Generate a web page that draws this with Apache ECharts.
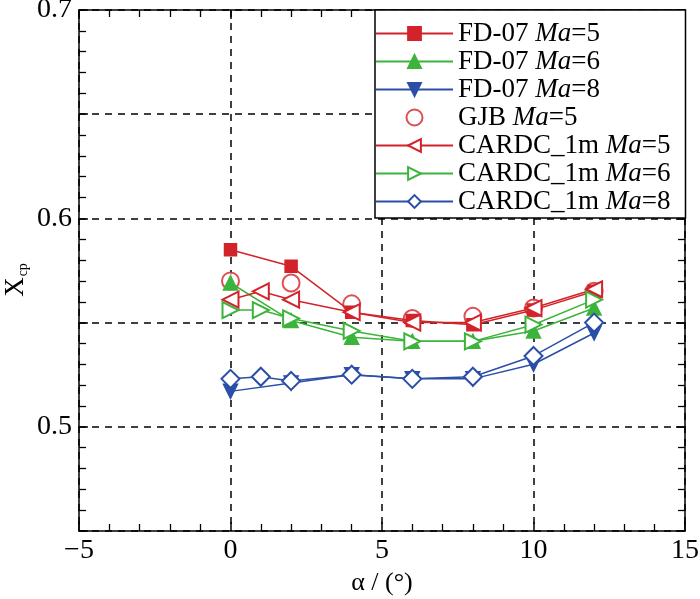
<!DOCTYPE html>
<html>
<head>
<meta charset="utf-8">
<script src="https://cdn.jsdelivr.net/npm/echarts@6/dist/echarts.min.js"></script>
<style>
  html, body { margin: 0; padding: 0; background: #fff; }
  #chart { width: 700px; height: 599px; }
</style>
</head>
<body>
<div id="chart"></div>
<script>
// angle of attack, deg
const alphaFD = [0, 2, 4, 6, 8, 10, 12];
const alphaGJB = [0, 2, 4, 6, 8, 10, 12];
const alphaCARDC = [0, 1, 2, 4, 6, 8, 10, 12];

// Xcp values
const fd07Ma5 = [0.585, 0.577, 0.555, 0.551, 0.549, 0.556, 0.565];
const fd07Ma6 = [0.569, 0.551, 0.543, 0.541, 0.541, 0.546, 0.557];
const fd07Ma8 = [0.517, 0.521, 0.525, 0.523, 0.523, 0.530, 0.545];
const gjbMa5 = [0.570, 0.569, 0.559, 0.552, 0.553, 0.557, 0.565];
const cardcMa5 = [0.561, 0.565, 0.561, 0.555, 0.550, 0.550, 0.557, 0.566];
const cardcMa6 = [0.556, 0.556, 0.552, 0.546, 0.541, 0.541, 0.549, 0.561];
const cardcMa8 = [0.523, 0.524, 0.522, 0.525, 0.523, 0.524, 0.534, 0.550];

const xTicks = [-5, 0, 5, 10, 15];
const yLabels = [0.5, 0.6, 0.7];

const RED = "#d3232a";
const GREEN = "#3cb43c";
const BLUE = "#2b4fa6";
const FONT = "Liberation Serif";

const pairs = (xs, ys) => xs.map((x, i) => [x, ys[i]]);

const lineSeries = (name, xs, ys, color, symbol, size, rotate) => ({
  name: name,
  type: "line",
  data: pairs(xs, ys),
  symbol: symbol,
  symbolSize: size,
  symbolRotate: rotate || 0,
  showAllSymbol: true,
  lineStyle: { color: color, width: 1.5 },
  itemStyle: { color: color, borderColor: color, borderWidth: 1.5 },
  emphasis: { disabled: true },
  animation: false,
});

const chart = echarts.init(document.getElementById("chart"), null, { renderer: "canvas" });

const tickStyle = { show: true, inside: true, length: 9, lineStyle: { color: "#000", width: 1.5 } };
const minorStyle = { show: true, splitNumber: 5, length: 7, lineStyle: { color: "#000", width: 1.3 } };
const axisLine = { show: true, onZero: false, lineStyle: { color: "#000", width: 1.5 } };
const dashed = { show: true, lineStyle: { color: "#000", width: 1.5, type: [7, 6] } };

chart.setOption({
  backgroundColor: "#fff",
  animation: false,
  grid: { left: 79, right: 15, top: 10, bottom: 68, containLabel: false, outerBoundsMode: "none" },
  legend: {
    orient: "vertical",
    left: 375,
    top: 10,
    padding: [10, 15, 3, 0],
    itemWidth: 77,
    itemHeight: 16,
    itemGap: 1,
    backgroundColor: "#fff",
    borderColor: "#000",
    borderWidth: 1.5,
    selectedMode: false,
    data: ["FD-07 Ma=5", "FD-07 Ma=6", "FD-07 Ma=8", "GJB Ma=5", "CARDC_1m Ma=5", "CARDC_1m Ma=6", "CARDC_1m Ma=8"],
    formatter: (name) => {
      const parts = name.split(" Ma=");
      return "{n|" + parts[0] + " }{i|Ma}{n|=" + parts[1] + "}";
    },
    textStyle: {
      rich: {
        n: { fontFamily: FONT, fontSize: 27, color: "#000" },
        i: { fontFamily: FONT, fontSize: 27, fontStyle: "italic", color: "#000" },
      },
    },
  },
  graphic: [
    {
      type: "text",
      x: 16,
      y: 280,
      rotation: Math.PI / 2,
      style: {
        text: "{x|X}{s|cp}",
        align: "center",
        verticalAlign: "middle",
        rich: {
          x: { fontFamily: FONT, fontSize: 27, color: "#000" },
          s: { fontFamily: FONT, fontSize: 14, color: "#000", verticalAlign: "bottom", padding: [14, 0, 0, 1] },
        },
      },
    },
  ],
  xAxis: [
    {
      type: "value",
      min: -5,
      max: 15,
      interval: 5,
      axisLine: axisLine,
      axisTick: tickStyle,
      minorTick: minorStyle,
      splitLine: dashed,
      axisLabel: {
        fontFamily: FONT,
        fontSize: 28,
        color: "#000",
        margin: 6,
        formatter: (v) => (xTicks.includes(v) ? (v < 0 ? "\u2212" + Math.abs(v) : String(v)) : ""),
      },
      name: "\u03b1 / (\u00b0)",
      nameLocation: "middle",
      nameGap: 33,
      nameTextStyle: { fontFamily: FONT, fontSize: 26, color: "#000" },
    },
    {
      type: "value",
      position: "top",
      min: -5,
      max: 15,
      interval: 5,
      axisLine: axisLine,
      axisTick: tickStyle,
      minorTick: minorStyle,
      splitLine: { show: false },
      axisLabel: { show: false },
    },
  ],
  yAxis: [
    {
      type: "value",
      min: 0.45,
      max: 0.7,
      interval: 0.05,
      axisLine: axisLine,
      axisTick: tickStyle,
      minorTick: minorStyle,
      splitLine: dashed,
      axisLabel: {
        fontFamily: FONT,
        fontSize: 28,
        color: "#000",
        margin: 7,
        formatter: (v) => {
          const hit = yLabels.find((t) => Math.abs(t - v) < 1e-6);
          return hit !== undefined ? hit.toFixed(1) : "";
        },
      },
    },
    {
      type: "value",
      position: "right",
      min: 0.45,
      max: 0.7,
      interval: 0.05,
      axisLine: axisLine,
      axisTick: tickStyle,
      minorTick: minorStyle,
      splitLine: { show: false },
      axisLabel: { show: false },
    },
  ],
  series: [
    lineSeries("FD-07 Ma=5", alphaFD, fd07Ma5, RED, "rect", 12),
    lineSeries("FD-07 Ma=6", alphaFD, fd07Ma6, GREEN, "triangle", 14),
    lineSeries("FD-07 Ma=8", alphaFD, fd07Ma8, BLUE, "triangle", 14, 180),
    {
      name: "GJB Ma=5",
      type: "scatter",
      data: pairs(alphaGJB, gjbMa5),
      symbol: "emptyCircle",
      symbolSize: 17,
      itemStyle: { color: RED, borderColor: RED, borderWidth: 1.5 },
      emphasis: { disabled: true },
      animation: false,
    },
    lineSeries("CARDC_1m Ma=5", alphaCARDC, cardcMa5, RED, "emptyTriangle", 16, 90),
    lineSeries("CARDC_1m Ma=6", alphaCARDC, cardcMa6, GREEN, "emptyTriangle", 16, -90),
    lineSeries("CARDC_1m Ma=8", alphaCARDC, cardcMa8, BLUE, "emptyDiamond", 18),
  ],
});
</script>
</body>
</html>
